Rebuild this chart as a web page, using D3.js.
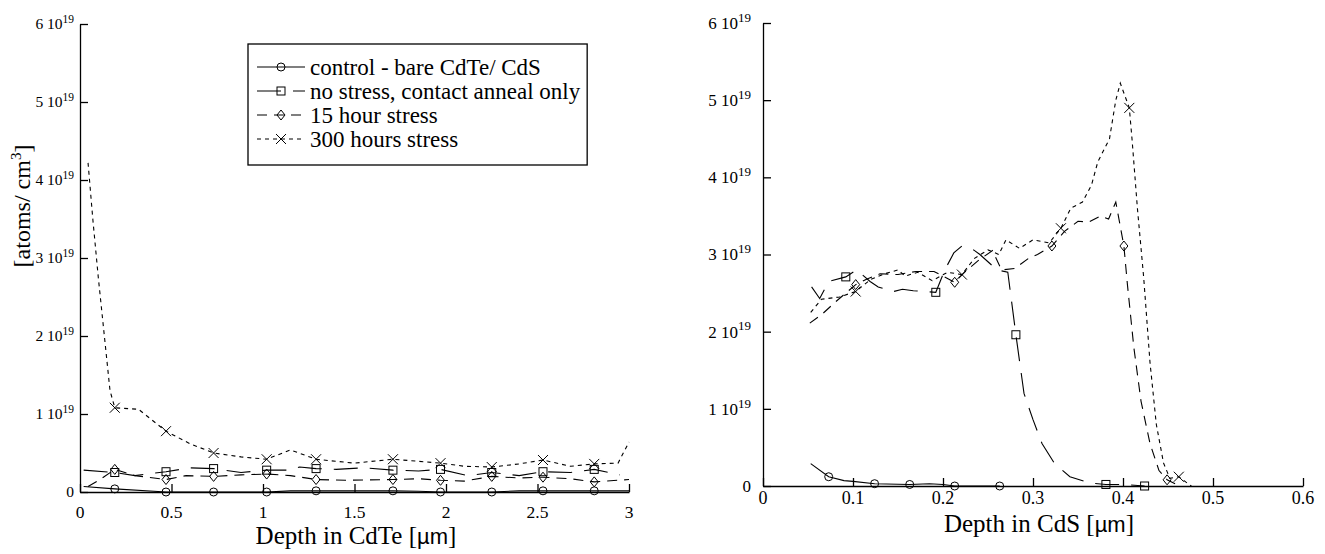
<!DOCTYPE html>
<html><head><meta charset="utf-8">
<script src="https://cdn.jsdelivr.net/npm/d3@7"></script>
<style>
body{margin:0;background:#fff}
svg{display:block}
svg text{font-family:"Times New Roman","Liberation Serif","DejaVu Serif",serif}
</style></head><body>
<svg id="chart" width="1325" height="554"></svg>
<script>
// Concentration profiles, values in units of 1e19 atoms/cm3.
// Each point is [depth (µm), concentration, symbol flag].
const cdteControl = [[0.02,0.07],[0.19,0.04,1],[0.47,0.0,1],[0.73,0.0,1],[1.02,0.0,1],[1.15,0.015],[1.29,0.015,1],[1.71,0.015,1],[1.85,0.01],[1.97,0.0,1],[2.25,0.0,1],[2.4,0.015],[2.53,0.015,1],[2.81,0.015,1],[3.0,0.015]];
const cdteNoStress = [[0.02,0.28],[0.19,0.25,1],[0.3,0.21],[0.47,0.26,1],[0.6,0.31],[0.73,0.30,1],[0.88,0.25],[1.02,0.28,1],[1.15,0.28],[1.2,0.32],[1.29,0.30,1],[1.4,0.29],[1.55,0.31],[1.71,0.28,1],[1.85,0.27],[1.97,0.29,1],[2.12,0.21],[2.25,0.25,1],[2.4,0.21],[2.53,0.26,1],[2.68,0.25],[2.81,0.29,1],[2.95,0.22]];
const cdte15h = [[0.044,0.07],[0.11,0.16],[0.19,0.29,1],[0.3,0.21],[0.47,0.16,1],[0.58,0.21],[0.73,0.20,1],[0.88,0.22],[1.02,0.23,1],[1.15,0.21],[1.29,0.16,1],[1.45,0.15],[1.71,0.16,1],[1.85,0.17],[1.97,0.15,1],[2.1,0.14],[2.25,0.20,1],[2.4,0.18],[2.53,0.19,1],[2.68,0.17],[2.81,0.13,1],[3.0,0.16]];
const cdte300h = [[0.044,4.22],[0.07,3.5],[0.1,2.75],[0.164,1.3],[0.19,1.08,1],[0.32,1.06],[0.47,0.78,1],[0.6,0.62],[0.73,0.50,1],[0.88,0.45],[1.02,0.42,1],[1.15,0.54],[1.29,0.42,1],[1.5,0.37],[1.71,0.42,1],[1.97,0.37,1],[2.1,0.33],[2.25,0.32,1],[2.4,0.36],[2.53,0.41,1],[2.68,0.33],[2.81,0.36,1],[2.94,0.37],[3.0,0.64]];

const cdsControl = [[0.053,0.29],[0.073,0.12,1],[0.09,0.07],[0.10,0.06],[0.124,0.03,1],[0.163,0.02,1],[0.185,0.03],[0.2,0.02],[0.213,0.0,1],[0.263,0.0,1]];
const cdsNoStress = [[0.054,2.58],[0.063,2.43],[0.073,2.65],[0.092,2.71,1],[0.104,2.80],[0.119,2.65],[0.128,2.58],[0.145,2.52],[0.155,2.55],[0.167,2.53],[0.192,2.51,1],[0.202,2.80],[0.212,3.02],[0.221,3.11],[0.234,3.06],[0.241,3.0],[0.26,2.8],[0.272,2.77],[0.281,1.96,1],[0.29,1.2],[0.3,0.86],[0.31,0.55],[0.324,0.29],[0.341,0.12],[0.363,0.04],[0.381,0.02,1],[0.40,0.02],[0.424,0.0,1]];
const cds15h = [[0.052,2.11],[0.065,2.22],[0.08,2.38],[0.092,2.5],[0.103,2.61,1],[0.115,2.68],[0.13,2.75],[0.15,2.74],[0.17,2.78],[0.19,2.78],[0.213,2.64,1],[0.225,2.78],[0.24,2.93],[0.255,3.05],[0.265,2.8],[0.28,2.82],[0.295,2.95],[0.305,3.0],[0.321,3.11,1],[0.335,3.3],[0.35,3.43],[0.362,3.42],[0.375,3.5],[0.384,3.46],[0.392,3.68],[0.401,3.11,1],[0.405,2.6],[0.412,1.8],[0.42,1.1],[0.43,0.55],[0.44,0.2],[0.449,0.08,1],[0.458,0.03]];
const cds300h = [[0.053,2.25],[0.065,2.42],[0.085,2.45],[0.103,2.52,1],[0.12,2.68],[0.135,2.75],[0.15,2.8],[0.158,2.72],[0.172,2.77],[0.188,2.66],[0.205,2.77],[0.221,2.74,1],[0.235,2.95],[0.25,3.06],[0.262,3.0],[0.27,3.19],[0.285,3.08],[0.3,3.19],[0.318,3.15],[0.331,3.34,1],[0.342,3.6],[0.355,3.68],[0.365,3.9],[0.372,4.2],[0.385,4.5],[0.392,5.0],[0.397,5.22],[0.407,4.9,1],[0.41,4.5],[0.416,3.6],[0.423,2.7],[0.43,1.6],[0.437,0.8],[0.445,0.3],[0.452,0.1],[0.462,0.12,1],[0.47,0.05],[0.476,0.0]];

const seriesNames = ["control - bare CdTe/ CdS", "no stress, contact anneal only", "15 hour stress", "300 hours stress"];
const yTickValues = [0, 1, 2, 3, 4, 5, 6];
const cdteTicks = [0, 0.5, 1, 1.5, 2, 2.5, 3];
const cdsTicks = [0, 0.1, 0.2, 0.3, 0.4, 0.5, 0.6];

// drawing styles per series
const symbols = ["circle", "square", "diamond", "cross"];
const dashes = [null, "24,12", "10,7", "4,4"];
const serif = "'Times New Roman', 'Liberation Serif', 'DejaVu Serif', serif";
const sans = "Arial, 'Liberation Sans', sans-serif";

const svg = d3.select("#chart");

function drawSymbol(g, kind, x, y) {
  const s = g.append("g").attr("transform", `translate(${x},${y})`)
    .attr("fill", "none").attr("stroke", "#000").attr("stroke-width", 1);
  if (kind === "circle") s.append("circle").attr("r", 4);
  else if (kind === "square") s.append("rect").attr("x", -4).attr("y", -4).attr("width", 8).attr("height", 8);
  else if (kind === "diamond") s.append("path").attr("d", "M0,-5L4,0L0,5L-4,0Z");
  else s.append("path").attr("d", "M-5,-5L5,5M-5,5L5,-5");
}

function panel(opts) {
  const x = d3.scaleLinear().domain(opts.xDomain).range(opts.xRange);
  const y = d3.scaleLinear().domain([0, 6]).range(opts.yRange);
  const g = svg.append("g");

  // axes with inward ticks
  const ax = g.append("g").attr("transform", `translate(0,${opts.yRange[0]})`)
    .call(d3.axisBottom(x).tickValues(opts.xTicks).tickSizeInner(-8).tickSizeOuter(0).tickFormat(""));
  const ay = g.append("g").attr("transform", `translate(${opts.xRange[0]},0)`)
    .call(d3.axisLeft(y).tickValues(yTickValues).tickSizeInner(-8).tickSizeOuter(0).tickFormat(""));
  [ax, ay].forEach(a => {
    a.selectAll("path,line").attr("stroke", "#000").attr("stroke-width", 1.3);
  });

  // y tick labels: "n 10^19"
  yTickValues.forEach(v => {
    const t = g.append("text").attr("x", opts.xRange[0] - opts.yLabelGap).attr("y", y(v))
      .attr("dy", "0.35em").attr("text-anchor", "end").attr("font-family", serif)
      .attr("font-size", opts.yLabelSize);
    if (v === 0) { t.text("0"); return; }
    t.append("tspan").text(v + " 10");
    t.append("tspan").attr("font-size", opts.supSize).attr("dy", "-0.55em").text("19");
  });

  // x tick labels
  opts.xTicks.forEach(v => {
    g.append("text").attr("x", x(v)).attr("y", opts.xLabelY).attr("text-anchor", "middle")
      .attr("font-family", serif).attr("font-size", opts.xLabelSize).text(v);
  });

  // x axis title, the unit set in a sans face
  const tt = g.append("text").attr("x", opts.titleX).attr("y", opts.titleY)
    .attr("text-anchor", "middle").attr("font-family", serif).attr("font-size", 25);
  tt.append("tspan").text(opts.title + " [");
  tt.append("tspan").attr("font-family", sans).attr("font-size", 22).text("µm");
  tt.append("tspan").text("]");

  const line = d3.line().x(d => x(d[0])).y(d => y(d[1]));
  opts.series.forEach((data, i) => {
    g.append("path").datum(data).attr("d", line).attr("fill", "none")
      .attr("stroke", "#000").attr("stroke-width", 1.1)
      .attr("stroke-dasharray", dashes[i]);
    data.filter(d => d[2]).forEach(d => drawSymbol(g, symbols[i], x(d[0]), y(d[1])));
  });
  return { x, y };
}

panel({
  xDomain: [0, 3], xRange: [80, 629], yRange: [492, 24], xTicks: cdteTicks,
  yLabelGap: 6, yLabelSize: 15.5, supSize: 11.5, xLabelY: 518, xLabelSize: 17.5,
  title: "Depth in CdTe", titleX: 356, titleY: 544,
  series: [cdteControl, cdteNoStress, cdte15h, cdte300h]
});
panel({
  xDomain: [0, 0.6], xRange: [763, 1303], yRange: [486, 23], xTicks: cdsTicks,
  yLabelGap: 12, yLabelSize: 17, supSize: 13, xLabelY: 504, xLabelSize: 18,
  title: "Depth in CdS", titleX: 1039, titleY: 532,
  series: [cdsControl, cdsNoStress, cds15h, cds300h]
});

// y axis title of the left panel
const yt = svg.append("text").attr("transform", "translate(30,206) rotate(-90)")
  .attr("text-anchor", "middle").attr("font-family", serif).attr("font-size", 24);
yt.append("tspan").text("[atoms/ cm");
yt.append("tspan").attr("font-size", 15).attr("dy", "-0.6em").text("3");
yt.append("tspan").attr("dy", "0.4em").text("]");

// legend, box sized to its longest entry
const lg = svg.append("g");
const box = lg.append("rect").attr("x", 248).attr("y", 44).attr("height", 121)
  .attr("fill", "#fff").attr("stroke", "#000").attr("stroke-width", 1.3);
const rowY = [67, 91, 115, 139];
let textEnd = 0;
seriesNames.forEach((name, i) => {
  lg.append("line").attr("x1", 257).attr("x2", 305).attr("y1", rowY[i]).attr("y2", rowY[i])
    .attr("stroke", "#000").attr("stroke-width", 1.1).attr("stroke-dasharray", dashes[i]);
  drawSymbol(lg, symbols[i], 281, rowY[i]);
  const t = lg.append("text").attr("x", 310).attr("y", rowY[i]).attr("dy", "0.34em")
    .attr("font-family", serif).attr("font-size", 23).text(name);
  textEnd = Math.max(textEnd, 310 + t.node().getComputedTextLength());
});
box.attr("width", textEnd + 7 - 248);
</script>
</body></html>
